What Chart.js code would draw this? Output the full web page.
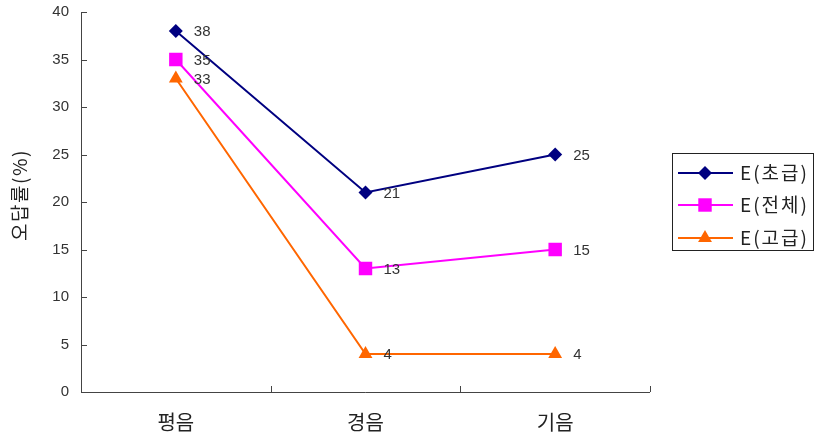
<!DOCTYPE html>
<html>
<head>
<meta charset="utf-8">
<script src="https://cdn.jsdelivr.net/npm/chart.js@4"></script>
<style>
  html, body { margin: 0; padding: 0; background: #fff; }
  #wrap { width: 817px; height: 438px; }
</style>
</head>
<body>
<div id="wrap"><canvas id="myChart" width="817" height="438"></canvas></div>
<script>
const categories = ['평음', '경음', '기음'];
const seriesNames = ['E(초급)', 'E(전체)', 'E(고급)'];
const beginner = [38, 21, 25];
const total = [35, 13, 15];
const advanced = [33, 4, 4];
const yTicks = [0, 5, 10, 15, 20, 25, 30, 35, 40];

const FONT = "'Liberation Sans', 'Noto Sans CJK KR', sans-serif";
const KFONT = "'Noto Sans CJK KR', 'Liberation Sans', sans-serif";

// axis lines, inward ticks, y title, value labels and legend box
const decor = {
  id: 'decor',
  afterDatasetsDraw(chart) {
    const ctx = chart.ctx;
    const area = chart.chartArea;
    const x = chart.scales.x, y = chart.scales.y;
    ctx.save();
    ctx.strokeStyle = '#444';
    ctx.lineWidth = 1;
    ctx.beginPath();
    ctx.moveTo(area.left + 0.5, area.top);
    ctx.lineTo(area.left + 0.5, area.bottom + 0.5);
    ctx.lineTo(area.right, area.bottom + 0.5);
    yTicks.forEach(v => {
      const py = Math.round(y.getPixelForValue(v)) + 0.5;
      ctx.moveTo(area.left, py);
      ctx.lineTo(area.left + 6, py);
    });
    const step = x.getPixelForValue(1) - x.getPixelForValue(0);
    for (let i = 0; i <= categories.length; i++) {
      const px = Math.round(x.getPixelForValue(i) - step / 2) + 0.5;
      ctx.moveTo(px, area.bottom);
      ctx.lineTo(px, area.bottom - 6);
    }
    ctx.stroke();

    // y axis title
    ctx.fillStyle = '#222';
    ctx.font = '19px ' + KFONT;
    ctx.letterSpacing = '1.5px';
    ctx.textAlign = 'center';
    ctx.textBaseline = 'middle';
    ctx.translate(20, 195);
    ctx.rotate(-Math.PI / 2);
    ctx.fillText('오답률(%)', 0, 0);
    ctx.setTransform(1, 0, 0, 1, 0, 0);
    ctx.letterSpacing = '0px';

    // value labels
    ctx.font = '15px ' + FONT;
    ctx.textAlign = 'left';
    ctx.fillStyle = '#333';
    chart.data.datasets.forEach((ds, di) => {
      chart.getDatasetMeta(di).data.forEach((pt, i) => {
        ctx.fillText(String(ds.data[i]), pt.x + 18, pt.y + 1);
      });
    });

    // legend
    const lx = 672, ly = 153, lw = 141, lh = 97;
    ctx.strokeStyle = '#222';
    ctx.lineWidth = 1;
    ctx.strokeRect(lx + 0.5, ly + 0.5, lw, lh);
    const rows = [173, 205, 238];
    ctx.font = '19px ' + KFONT;
    ctx.letterSpacing = '2px';
    chart.data.datasets.forEach((ds, di) => {
      const ry = rows[di];
      ctx.strokeStyle = ds.borderColor;
      ctx.lineWidth = 2;
      ctx.beginPath();
      ctx.moveTo(678, ry);
      ctx.lineTo(733, ry);
      ctx.stroke();
      ctx.fillStyle = ds.borderColor;
      Chart.helpers.drawPoint(ctx, {
        pointStyle: ds.pointStyle, radius: ds.pointRadius, rotation: 0, borderWidth: 0
      }, 705, ry);
      ctx.fillStyle = '#222';
      ctx.fillText(ds.label, 740, ry);
    });
    ctx.restore();
  }
};

const ctx = document.getElementById('myChart').getContext('2d');
new Chart(ctx, {
  type: 'line',
  data: {
    labels: categories,
    datasets: [
      { label: seriesNames[0], data: beginner, borderColor: '#000080', backgroundColor: '#000080',
        pointStyle: 'rectRot', pointRadius: 7, borderWidth: 2, pointBorderWidth: 0 },
      { label: seriesNames[1], data: total, borderColor: '#FF00FF', backgroundColor: '#FF00FF',
        pointStyle: 'rect', pointRadius: 9.5, borderWidth: 2, pointBorderWidth: 0 },
      { label: seriesNames[2], data: advanced, borderColor: '#FF6600', backgroundColor: '#FF6600',
        pointStyle: 'triangle', pointRadius: 8, borderWidth: 2, pointBorderWidth: 0 }
    ]
  },
  options: {
    responsive: false,
    animation: false,
    layout: { padding: { top: 12, right: 167, left: 0, bottom: 0 } },
    plugins: {
      legend: { display: false },
      tooltip: { enabled: false }
    },
    scales: {
      x: {
        offset: true,
        grid: { display: false, drawTicks: false },
        border: { display: false },
        ticks: { color: '#222', font: { size: 20, family: KFONT }, padding: 18 },
        afterFit(scale) { scale.height = 46; }
      },
      y: {
        min: 0,
        max: 40,
        grid: { display: false, drawTicks: false },
        border: { display: false },
        ticks: { stepSize: 5, color: '#333', font: { size: 15, family: FONT }, padding: 12 },
        afterFit(scale) { scale.width = 81; scale.paddingTop = 0; scale.paddingBottom = 0; }
      }
    }
  },
  plugins: [decor]
});
</script>
</body>
</html>
